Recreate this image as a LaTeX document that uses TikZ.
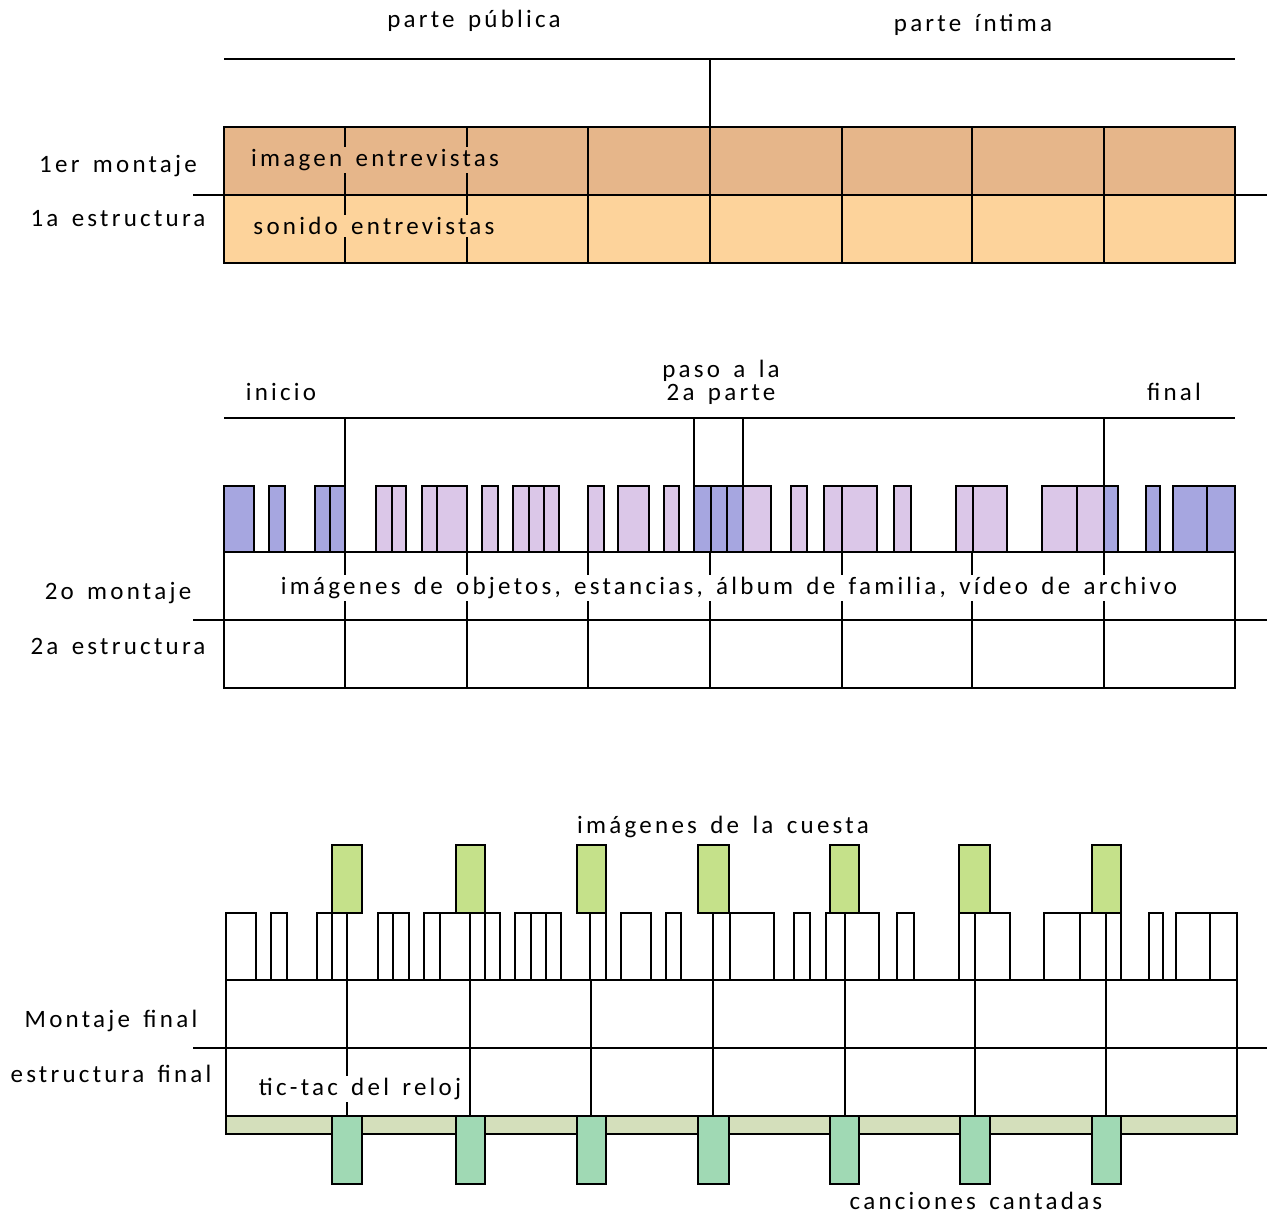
\documentclass[tikz,border=0pt]{standalone}
\usepackage{fontspec}
\setmainfont{Carlito}[LetterSpace=13, WordSpace=1.5]
\usepackage{tikz}
\usetikzlibrary{positioning}

\definecolor{imgbrown}{RGB}{230,182,138}
\definecolor{sndorange}{RGB}{253,211,155}
\definecolor{barblue}{RGB}{166,166,224}
\definecolor{barpink}{RGB}{219,199,232}
\definecolor{cuestagreen}{RGB}{197,225,138}
\definecolor{relojgreen}{RGB}{212,223,187}
\definecolor{cancionteal}{RGB}{160,217,180}

\begin{document}
\begin{tikzpicture}[x=0.5pt, y=-0.5pt, line width=0.9pt, font=\fontsize{12.5}{11.5}\selectfont,
  rowlabel/.style={inner sep=1pt},
  shot/.style={draw, line width=0.9pt}]
  \useasboundingbox (0,0) rectangle (1269,1214);

  % 1er montaje
  \node (publica) at (474,21) {parte pública};
  \node (intima) at (973,25) {parte íntima};
  \draw (224,59) -- (1235,59);
  \draw (710,59) -- (710,127);
  \fill[imgbrown] (224,127) rectangle (1235,195);
  \fill[sndorange] (224,195) rectangle (1235,263);
  \foreach \x in {345,467,588,710,842,972,1104} \draw (\x,127) -- (\x,263);
  \draw (224,127) rectangle (1235,263);
  \draw (193,195) -- (1267,195);
  \node[fill=imgbrown, inner sep=1pt] (imagen) at (375,160) {imagen entrevistas};
  \node[fill=sndorange, inner sep=1pt] (sonido) at (374,226) {sonido entrevistas};
  \node[rowlabel] (montaje1) at (118,166) {1er montaje};
  \node[rowlabel] (estructura1) at (118,219) {1a estructura};

  % 2o montaje
  \node (inicio) at (281,392) {inicio};
  \node[align=center] (paso) at (721,382) {paso a la\\2a parte};
  \node (final) at (1174,392) {final};
  \draw (224,418) -- (1235,418);
  \foreach \x in {345,694,743,1104} \draw (\x,418) -- (\x,486);
  \foreach \a/\b in {224/254,269/285,315/330,330/345,694/711,711/727,727/743,1104/1118,1146/1160,1173/1207,1207/1235}
    \draw[shot, fill=barblue] (\a,486) rectangle (\b,552);
  \foreach \a/\b in {376/392,392/406,422/437,437/467,482/498,513/529,529/544,544/559,588/604,618/649,664/679,743/771,791/807,824/842,842/877,894/911,956/973,973/1007,1042/1077,1077/1104}
    \draw[shot, fill=barpink] (\a,486) rectangle (\b,552);
  \foreach \x in {345,467,588,710,842,972,1104} \draw (\x,552) -- (\x,688);
  \draw (224,552) rectangle (1235,688);
  \draw (193,620) -- (1267,620);
  \node[fill=white, inner sep=1pt] (objetos) at (729,588) {imágenes de objetos, estancias, álbum de familia, vídeo de archivo};
  \node[rowlabel] (montaje2) at (118,593) {2o montaje};
  \node[rowlabel] (estructura2) at (118,646) {2a estructura};

  % Montaje final
  \node (cuesta) at (723,827) {imágenes de la cuesta};
  \foreach \a/\b in {332/362,456/485,577/606,698/729,830/859,959/990,1092/1121}
    \draw[shot, fill=cuestagreen] (\a,845) rectangle (\b,913);
  \foreach \a/\b in {226/256,271/287,317/332,332/347,378/393,393/409,424/440,440/470,470/485,485/500,515/531,531/546,546/561,590/606,621/651,666/681,713/730,730/774,794/810,826/845,845/879,897/914,959/975,975/1010,1044/1080,1080/1106,1106/1121,1149/1163,1176/1210,1210/1237}
    \draw[shot, fill=white] (\a,913) rectangle (\b,980);
  \foreach \x in {347,470,591,713,845,975,1106} \draw (\x,980) -- (\x,1116);
  \draw (226,980) rectangle (1237,1116);
  \draw (193,1048) -- (1267,1048);
  \node[fill=white, inner sep=1pt] (reloj) at (360,1089) {tic-tac del reloj};
  \draw[shot, fill=relojgreen] (226,1116) rectangle (1237,1134);
  \foreach \a/\b in {332/362,456/485,577/606,698/729,830/859,960/990,1092/1121}
    \draw[shot, fill=cancionteal] (\a,1116) rectangle (\b,1184);
  \node[inner sep=1pt] (canciones) at (976,1201) {canciones cantadas};
  \node[rowlabel] (montajef) at (111,1021) {Montaje final};
  \node[rowlabel] (estructuraf) at (111,1074) {estructura final};
\end{tikzpicture}
\end{document}
